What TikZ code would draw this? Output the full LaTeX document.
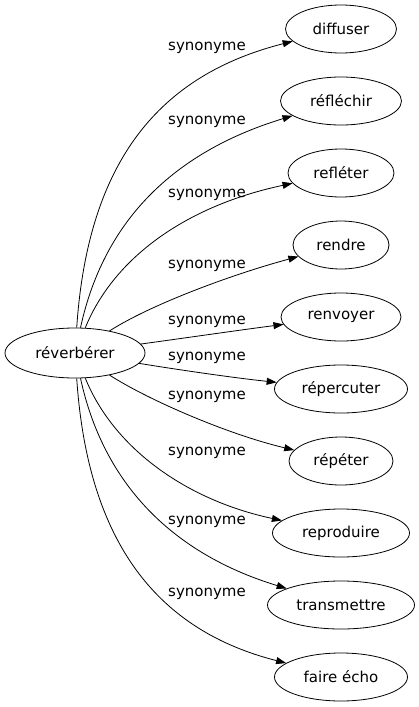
\documentclass[tikz,border=0pt]{standalone}
\usepackage{fontspec}
\setmainfont{DejaVu Sans}
\usetikzlibrary{shapes.geometric,arrows.meta}

\begin{document}
\begin{tikzpicture}[x=1pt,y=-1pt,
  word/.style={ellipse,draw,line width=0.8pt,inner sep=0pt,minimum height=48pt,font=\fontsize{15}{18}\selectfont},
  syn/.style={inner sep=1pt,font=\fontsize{15}{18}\selectfont},
  link/.style={line width=0.8pt,-{Triangle[length=10pt,width=7pt]}}]
\useasboundingbox (0,0) rectangle (419,707);
% root and its synonyms
\node [word,minimum width=140pt,minimum height=50pt] (root) at (75,353) {réverbérer};
\node [word,minimum width=111pt] (diffuser) at (341,29) {diffuser};
\node [word,minimum width=121pt] (reflechir) at (341,101) {réfléchir};
\node [word,minimum width=106pt] (refleter) at (341,173) {refléter};
\node [word,minimum width=96pt] (rendre) at (341,245) {rendre};
\node [word,minimum width=120pt] (renvoyer) at (341,317) {renvoyer};
\node [word,minimum width=133pt] (repercuter) at (341,389) {répercuter};
\node [word,minimum width=104pt] (repeter) at (341,461) {répéter};
\node [word,minimum width=137pt] (reproduire) at (341,533) {reproduire};
\node [word,minimum width=147pt] (transmettre) at (341,605) {transmettre};
\node [word,minimum width=133pt] (echo) at (341,677) {faire écho};
% edge labels
\node [syn] (s1) at (207,48) {synonyme};
\node [syn] (s2) at (207,122) {synonyme};
\node [syn] (s3) at (207,195) {synonyme};
\node [syn] (s4) at (207,266) {synonyme};
\node [syn] (s5) at (207,322) {synonyme};
\node [syn] (s6) at (207,358) {synonyme};
\node [syn] (s7) at (207,397) {synonyme};
\node [syn] (s8) at (207,453) {synonyme};
\node [syn] (s9) at (207,522) {synonyme};
\node [syn] (s10) at (207,594) {synonyme};
% edges
\draw [link] (root) .. controls (88,160) and (160,75) .. (diffuser);
\draw [link] (root) .. controls (105,215) and (180,150) .. (reflechir);
\draw [link] (root) .. controls (115,255) and (190,205) .. (refleter);
\draw [link] (root) .. controls (150,305) and (230,275) .. (rendre);
\draw [link] (root) .. controls (185,338) and (240,330) .. (renvoyer);
\draw [link] (root) .. controls (180,370) and (235,378) .. (repercuter);
\draw [link] (root) .. controls (150,401) and (230,435) .. (repeter);
\draw [link] (root) .. controls (115,451) and (190,501) .. (reproduire);
\draw [link] (root) .. controls (105,491) and (180,556) .. (transmettre);
\draw [link] (root) .. controls (88,546) and (160,631) .. (echo);
\end{tikzpicture}
\end{document}
